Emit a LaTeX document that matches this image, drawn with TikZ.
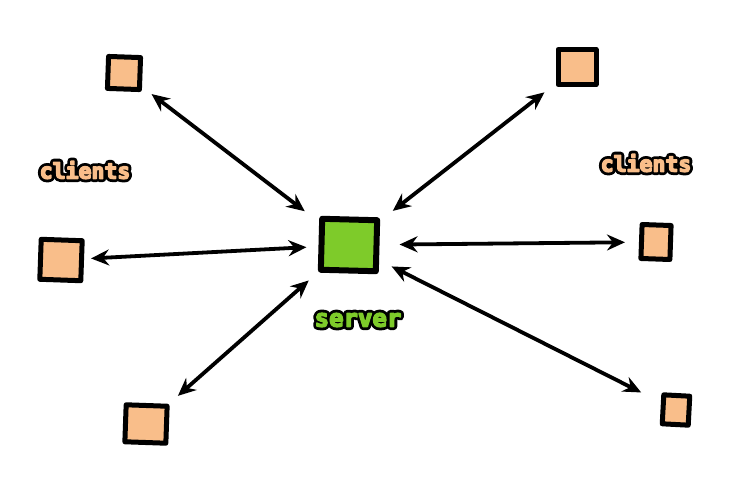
\documentclass[tikz,border=0pt]{standalone}
\usepackage{fontspec}
\setmonofont{DejaVu Sans Mono}
\usetikzlibrary{arrows.meta}
\definecolor{clientfill}{HTML}{F9BE8A}
\definecolor{serverfill}{HTML}{7ECB2A}
\newcommand{\outlinedtext}[2]{%
  \makebox[0pt][l]{\color{black}\special{pdf:literal direct 2 Tr 7 w 1 j}#2\special{pdf:literal direct 0 Tr 1 w}}%
  \textcolor{#1}{\special{pdf:literal direct 2 Tr 1.4 w 1 j}#2\special{pdf:literal direct 0 Tr 1 w}}}
\tikzset{
  client/.style={draw=black, fill=clientfill, line width=5pt, line join=round, inner sep=0pt},
  serverbox/.style={draw=black, fill=serverfill, line width=6pt, line join=round, minimum width=55pt, minimum height=51pt, inner sep=0pt},
  link/.style={black, line width=3.8pt, line cap=round, {Stealth[length=18pt,width=16pt,inset=6pt]}-{Stealth[length=18pt,width=16pt,inset=6pt]}},
  lbl/.style={font=\ttfamily\bfseries, inner sep=0pt}
}
\begin{document}
\begin{tikzpicture}[x=1pt,y=-1pt]
\useasboundingbox (0,0) rectangle (742,501);
\node[serverbox, rotate=-1.5] (srv) at (349,245) {};
\node[client, minimum width=32pt, minimum height=32pt, rotate=-2] (c1) at (124,73) {};
\node[client, minimum width=38pt, minimum height=35pt] (c2) at (577,67) {};
\node[client, minimum width=41pt, minimum height=40pt, rotate=-2] (c3) at (61,260) {};
\node[client, minimum width=29pt, minimum height=34pt, rotate=-2] (c4) at (656,242) {};
\node[client, minimum width=41pt, minimum height=37pt, rotate=-2] (c5) at (146,424) {};
\node[client, minimum width=26pt, minimum height=29pt, rotate=-3] (c6) at (676,410) {};
\draw[link, shorten <=12pt, shorten >=18pt] (c1) -- (srv);
\draw[link, shorten <=14pt, shorten >=16pt] (c2) -- (srv);
\draw[link, shorten <=7pt, shorten >=12pt] (c3) -- (srv);
\draw[link, shorten <=14pt, shorten >=20pt] (c4) -- (srv);
\draw[link, shorten <=12pt, shorten >=12pt] (c5) -- (srv);
\draw[link, shorten <=22pt, shorten >=14pt] (c6) -- (srv);
\node[lbl, font=\ttfamily\bfseries\fontsize{24}{28}\selectfont] (lsrv) at (358,320) {\outlinedtext{serverfill}{server}};
\node[lbl, font=\ttfamily\bfseries\fontsize{21.5}{26}\selectfont] (lc1) at (85,170) {\outlinedtext{clientfill}{clients}};
\node[lbl, font=\ttfamily\bfseries\fontsize{21.5}{26}\selectfont] (lc2) at (646,163) {\outlinedtext{clientfill}{clients}};
\end{tikzpicture}
\end{document}
